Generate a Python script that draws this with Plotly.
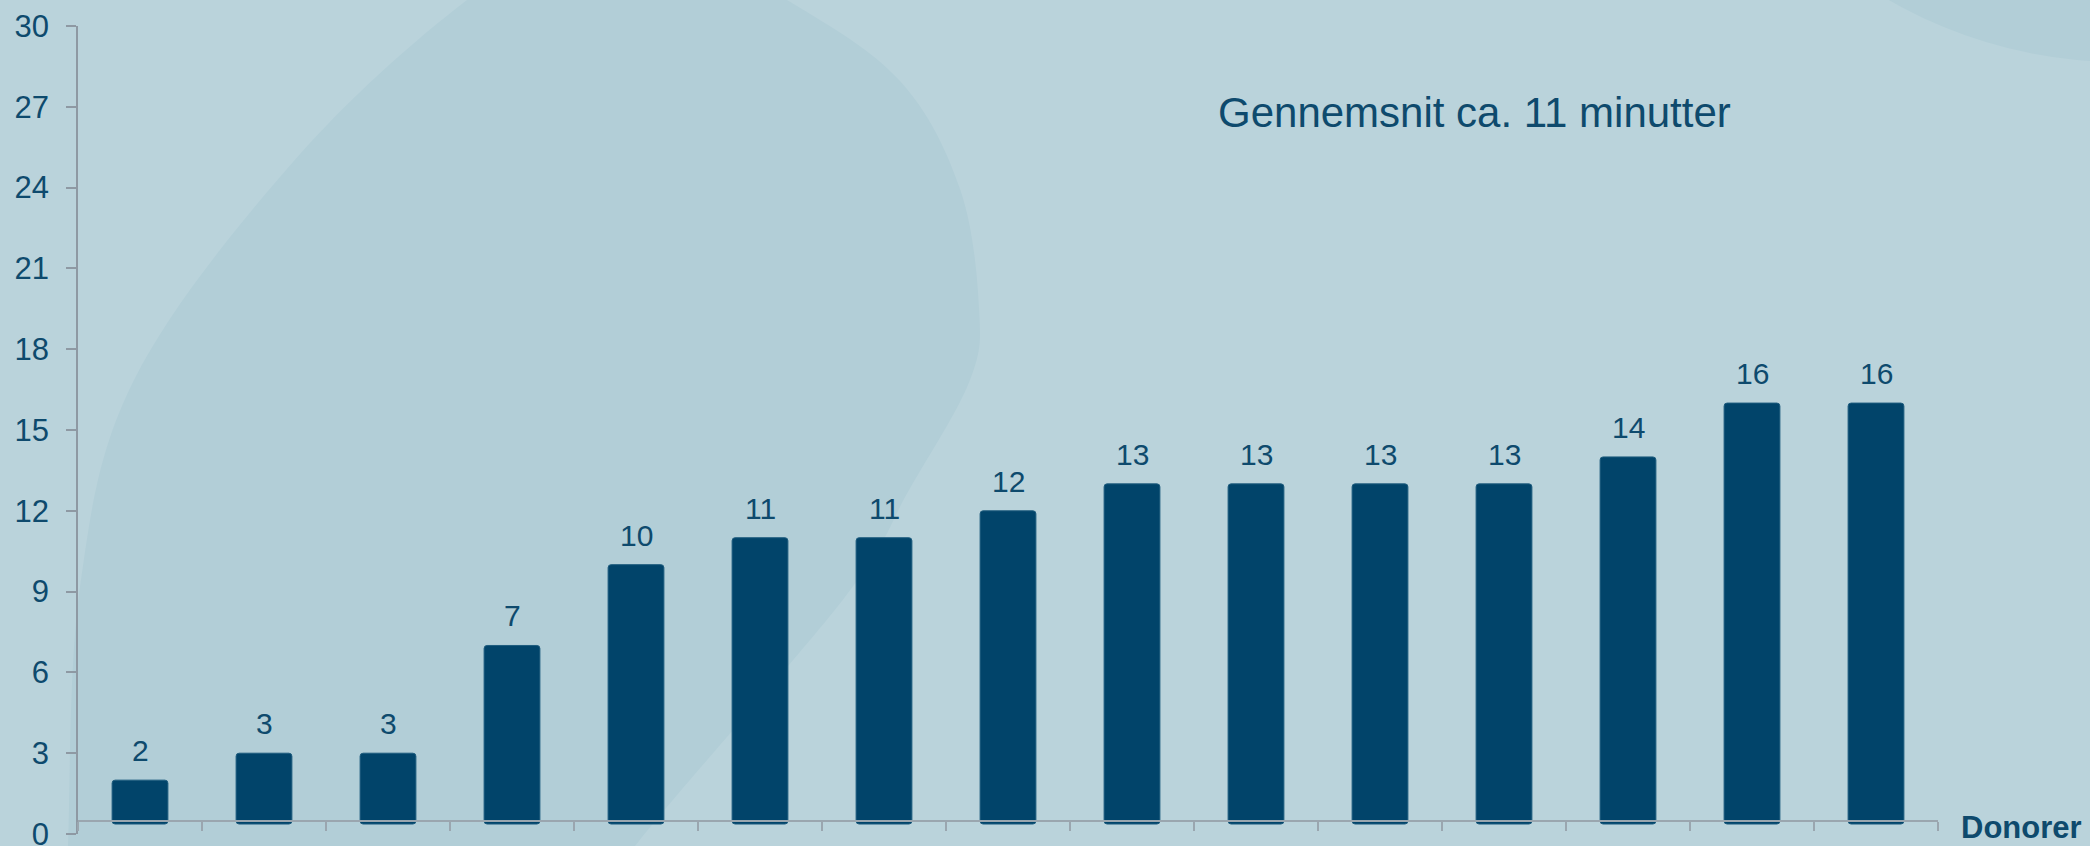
import plotly.graph_objects as go

# ---------------- data ----------------
donors = ["1", "2", "3", "4", "5", "6", "7", "8", "9", "10", "11", "12", "13", "14", "15"]
minutes = [2, 3, 3, 7, 10, 11, 11, 12, 13, 13, 13, 13, 14, 16, 16]
y_tick_values = [0, 3, 6, 9, 12, 15, 18, 21, 24, 27, 30]
avg_text = "Gennemsnit ca. 11 minutter"
x_title = "Donorer"

# ---------------- style ----------------
W, H = 2090, 846
ML, MR, MT, MB = 78, 152, 26, 12
BG = "#BAD3DB"
BLOB = "#B2CED7"
BAR = "#01446A"
BAR_EDGE = "#1E5C7E"
TEXT = "#0E4A6D"
AXIS = "#8E99A3"
FONT = "Liberation Sans, Arial, Helvetica, sans-serif"
BAR_FLOOR = 0.37  # bars start slightly above the zero line, as in the original

PW, PH = W - ML - MR, H - MT - MB


def to_paper(px, py):
    return (px - ML) / PW, (H - MB - py) / PH


def smooth_path(points):
    """Closed Catmull-Rom spline through pixel points -> SVG path in paper coords."""
    n = len(points)
    pts = [to_paper(*p) for p in points]
    d = "M {:.5f},{:.5f}".format(*pts[0])
    for i in range(n):
        p0, p1, p2, p3 = pts[(i - 1) % n], pts[i], pts[(i + 1) % n], pts[(i + 2) % n]
        c1 = (p1[0] + (p2[0] - p0[0]) / 6, p1[1] + (p2[1] - p0[1]) / 6)
        c2 = (p2[0] - (p3[0] - p1[0]) / 6, p2[1] - (p3[1] - p1[1]) / 6)
        d += " C {:.5f},{:.5f} {:.5f},{:.5f} {:.5f},{:.5f}".format(*c1, *c2, *p2)
    return d + " Z"


blob_outline = [
    (66, 960), (68, 846), (80, 587), (134, 380), (293, 162), (467, 0), (620, -90),
    (787, 0), (900, 81), (960, 189), (979, 308), (970, 380), (909, 490),
    (845, 597), (635, 846), (560, 960), (300, 1010),
]

# top-right decorative circle (pixels): centre (2120,-400), r 462
cx, cy, r = 2120, -400, 462
c_x0, c_y0 = to_paper(cx - r, cy + r)
c_x1, c_y1 = to_paper(cx + r, cy - r)

fig = go.Figure()
fig.add_trace(go.Bar(
    x=donors,
    y=[v - BAR_FLOOR for v in minutes],
    base=BAR_FLOOR,
    width=0.45,
    marker=dict(color=BAR, line=dict(color=BAR_EDGE, width=1), cornerradius=3),
    hoverinfo="skip",
))

annotations = []
for i, v in enumerate(minutes):
    annotations.append(dict(
        x=i, y=v, xref="x", yref="y", text=str(v), showarrow=False,
        yanchor="bottom", yshift=11, font=dict(size=30, color=TEXT, family=FONT),
    ))

annotations.append(dict(
    x=to_paper(1474, 0)[0], y=to_paper(0, 113)[1], xref="paper", yref="paper",
    text=avg_text, showarrow=False, xanchor="center", yanchor="middle",
    font=dict(size=42, color=TEXT, family=FONT),
))
annotations.append(dict(
    x=to_paper(2021, 0)[0], y=to_paper(0, 827)[1], xref="paper", yref="paper",
    text="<b>" + x_title + "</b>", showarrow=False, xanchor="center", yanchor="middle",
    font=dict(size=31, color=TEXT, family=FONT),
))

shapes = [
    dict(type="path", xref="paper", yref="paper", path=smooth_path(blob_outline),
         fillcolor=BLOB, line=dict(width=0), layer="below"),
    dict(type="circle", xref="paper", yref="paper", x0=c_x0, x1=c_x1, y0=c_y0, y1=c_y1,
         fillcolor=BLOB, line=dict(width=0), layer="below"),
]

fig.update_layout(
    width=W, height=H,
    margin=dict(l=ML, r=MR, t=MT, b=MB, pad=0, autoexpand=False),
    paper_bgcolor=BG,
    plot_bgcolor="rgba(0,0,0,0)",
    showlegend=False,
    annotations=annotations,
    shapes=shapes,
    font=dict(family=FONT, color=TEXT),
    xaxis=dict(
        type="category", range=[-0.5, len(donors) - 0.5],
        showline=True, linecolor="#9AA6AF", linewidth=2,
        ticks="outside", tickson="boundaries", ticklen=9, tickcolor="#9AA6AF", tickwidth=1.5,
        showticklabels=False, showgrid=False, zeroline=False, automargin=False,
        anchor="free", position=(834 - 821) / PH,
    ),
    yaxis=dict(
        range=[0, 30], tickmode="array", tickvals=y_tick_values,
        showline=True, linecolor=AXIS, linewidth=1.5,
        ticks="outside", ticklen=10, tickcolor=AXIS, tickwidth=1.5,
        tickfont=dict(size=31, color=TEXT, family=FONT),
        ticklabelstandoff=11, ticklabeloverflow="allow", automargin=False,
        showgrid=False, zeroline=False,
    ),
)

fig.write_html(
    "out.html",
    config={"displayModeBar": False},
    post_script="document.body.style.margin='0';document.body.style.background='" + BG + "';",
)
